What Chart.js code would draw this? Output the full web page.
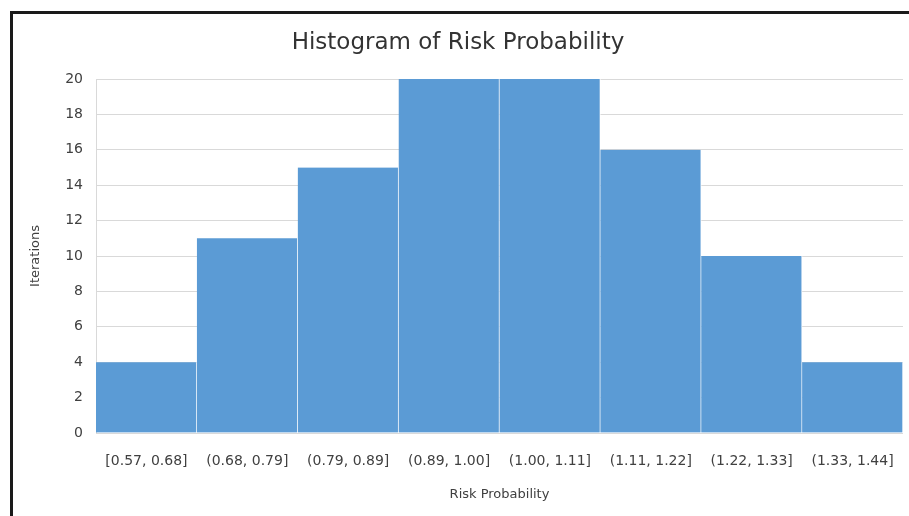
<!DOCTYPE html>
<html>
<head>
<meta charset="utf-8">
<script src="https://cdn.jsdelivr.net/npm/chart.js@4"></script>
<style>
  body { margin: 0; background: #fff; }
  #wrap { position: relative; width: 909px; height: 516px; }
  #frame {
    position: absolute; left: 10px; top: 11px; right: 0; bottom: 0;
    border-left: 3px solid #1a1a1a; border-top: 3px solid #1a1a1a;
    pointer-events: none;
  }
</style>
</head>
<body>
<div id="wrap">
  <canvas id="histChart" width="909" height="516"></canvas>
  <div id="frame"></div>
</div>
<script>
// Data
const bins = ['[0.57, 0.68]', '(0.68, 0.79]', '(0.79, 0.89]', '(0.89, 1.00]',
              '(1.00, 1.11]', '(1.11, 1.22]', '(1.22, 1.33]', '(1.33, 1.44]'];
const iterations = [4, 11, 15, 20, 20, 16, 10, 4];

const fontFamily = '"DejaVu Sans", "Noto Sans", sans-serif';

const ctx = document.getElementById('histChart').getContext('2d');

new Chart(ctx, {
    type: 'bar',
    data: {
        labels: bins,
        datasets: [{
            label: 'Iterations',
            data: iterations,
            backgroundColor: '#5B9BD5',
            borderColor: '#ffffff',
            borderWidth: { left: 0, right: 1, top: 0, bottom: 0 },
            borderSkipped: false,
            categoryPercentage: 1.0,
            barPercentage: 1.0
        }]
    },
    options: {
        responsive: false,
        animation: false,
        // left padding keeps the title centred inside the framed area
        layout: { padding: { left: 13, right: 6, top: 0, bottom: 0 } },
        plugins: {
            legend: { display: false },
            tooltip: { enabled: false },
            title: {
                display: true,
                text: 'Histogram of Risk Probability',
                color: '#333333',
                font: { family: fontFamily, size: 23, weight: 'normal' },
                padding: { top: 29.5, bottom: 21.9 }
            }
        },
        scales: {
            x: {
                grid: { display: false, drawTicks: false },
                border: { display: false },
                ticks: {
                    color: '#404040',
                    font: { family: fontFamily, size: 14 },
                    padding: 20,
                    maxRotation: 0,
                    autoSkip: false
                },
                title: {
                    display: true,
                    text: 'Risk Probability',
                    color: '#404040',
                    font: { family: fontFamily, size: 13 },
                    padding: { top: 4, bottom: 14 }
                },
                afterFit: (scale) => {
                    scale.height = 83;
                    scale.paddingLeft = 0;
                    scale.paddingRight = 0;
                }
            },
            y: {
                min: 0,
                max: 20,
                ticks: {
                    stepSize: 2,
                    color: '#404040',
                    font: { family: fontFamily, size: 14 },
                    padding: 13
                },
                grid: { color: '#d9d9d9', drawTicks: false },
                border: { color: '#d9d9d9' },
                title: {
                    display: true,
                    text: 'Iterations',
                    color: '#404040',
                    font: { family: fontFamily, size: 13 },
                    padding: { top: 15, bottom: 4 }
                },
                afterFit: (scale) => { scale.width = 83; }
            }
        }
    }
});
</script>
</body>
</html>
